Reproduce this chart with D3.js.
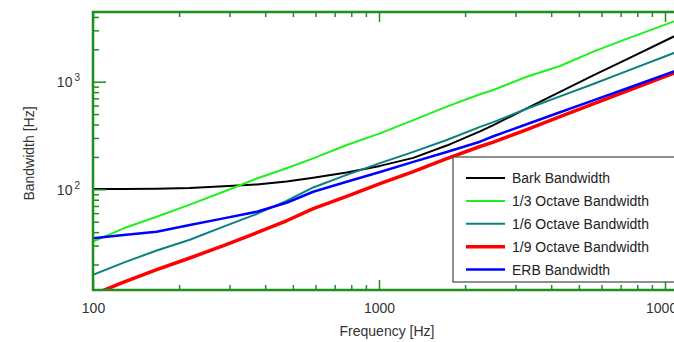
<!DOCTYPE html>
<html>
<head>
<meta charset="utf-8">
<script src="https://cdn.jsdelivr.net/npm/d3@7"></script>
<style>
  html, body { margin: 0; padding: 0; background: #fff; }
  svg { display: block; font-family: "Liberation Sans", Arial, sans-serif; }
</style>
</head>
<body>
<script>
// ---- data ----
const freqs      = [100, 128, 167, 218, 286, 374, 475, 589, 771, 1008, 1318, 1725, 2255, 2511, 3284, 4295, 5613, 7345, 10690, 11200];
const barkBW     = [100.5, 100.5, 101, 103, 107, 111, 118, 128, 143, 165, 196, 255, 345, 395, 565, 805, 1143, 1614, 2618, 2800];
const thirdOctBW = [32.7, 43.4, 55.6, 72, 95, 126, 157, 194, 258, 331, 440, 586, 765, 837, 1112, 1400, 1901, 2500, 3614, 3780];
const sixthOctBW = [16, 20.8, 27, 34, 45, 59, 78, 104, 136, 175, 223, 287, 380, 421, 560, 730, 953, 1253, 1837, 1920];
const ninthOctBW = [10.5, 13.7, 17.9, 23, 30, 39.5, 51, 66, 86, 113, 146, 193, 250, 274, 359, 473, 621, 816, 1197, 1250];
const erbBW      = [35, 37.6, 40.4, 46.6, 53.7, 61.9, 75, 94.9, 117.7, 145, 180, 222, 277, 311, 402, 520, 671, 865, 1239, 1300];

const seriesNames  = ["Bark Bandwidth", "1/3 Octave Bandwidth", "1/6 Octave Bandwidth", "1/9 Octave Bandwidth", "ERB Bandwidth"];
const seriesValues = [barkBW, thirdOctBW, sixthOctBW, ninthOctBW, erbBW];
const seriesColors = ["#000000", "#1ef01e", "#0a8080", "#ff0000", "#0000ff"];
const seriesWidths = [2, 2, 2, 3.5, 2.5];

const xMajorTicks = [100, 1000, 10000];
const xMinorTicks = [200, 300, 400, 500, 600, 700, 800, 900, 2000, 3000, 4000, 5000, 6000, 7000, 8000, 9000];
const yMajorTicks = [100, 1000];
const yMajorExp   = ["2", "3"];
const yMinorTicks = [20, 30, 40, 50, 60, 70, 80, 90, 200, 300, 400, 500, 600, 700, 800, 900, 2000, 3000, 4000];
const xTitle = "Frequency [Hz]";
const yTitle = "Bandwidth [Hz]";

// ---- layout ----
const W = 674, H = 342;
const L = 93, T = 12, B = 290, R = 700;
const axisColor = "#1f8f1f";
const textColor = "#333";

const x = d3.scaleLog().domain([100, 10000]).range([L, 665]);
const y = d3.scaleLog().domain([100, 1000]).range([189.3, 81.7]);

const svg = d3.select("body").append("svg").attr("width", W).attr("height", H);

svg.append("defs").append("clipPath").attr("id", "plotclip")
  .append("rect").attr("x", L).attr("y", T).attr("width", R - L).attr("height", B - T);

// series lines
const line = d3.line().x(d => x(d[0])).y(d => y(d[1]));
const gLines = svg.append("g").attr("clip-path", "url(#plotclip)");
seriesValues.forEach((vals, i) => {
  gLines.append("path")
    .datum(freqs.map((f, k) => [f, vals[k]]))
    .attr("d", line)
    .attr("fill", "none")
    .attr("stroke", seriesColors[i])
    .attr("stroke-width", seriesWidths[i])
    .attr("stroke-linejoin", "round");
});

// axes
function styleAxis(g) {
  g.select(".domain").remove();
  g.selectAll(".tick line").attr("stroke", axisColor).attr("stroke-width", 1.5);
  g.selectAll(".tick text").attr("fill", textColor).attr("font-size", 14)
    .attr("font-family", "'Liberation Sans', Arial, sans-serif");
}
// bottom
svg.append("g").attr("transform", `translate(0,${B})`)
  .call(d3.axisBottom(x).tickValues(xMinorTicks).tickSize(-5).tickFormat(""))
  .call(styleAxis);
svg.append("g").attr("transform", `translate(0,${B})`)
  .call(d3.axisBottom(x).tickValues(xMajorTicks).tickSize(-10).tickPadding(13).tickFormat(d3.format("d")))
  .call(styleAxis);
// top
svg.append("g").attr("transform", `translate(0,${T})`)
  .call(d3.axisTop(x).tickValues(xMinorTicks).tickSize(-5).tickFormat(""))
  .call(styleAxis);
svg.append("g").attr("transform", `translate(0,${T})`)
  .call(d3.axisTop(x).tickValues(xMajorTicks).tickSize(-10).tickFormat(""))
  .call(styleAxis);
// left
svg.append("g").attr("transform", `translate(${L},0)`)
  .call(d3.axisLeft(y).tickValues(yMinorTicks).tickSize(-6).tickFormat(""))
  .call(styleAxis);
const yMaj = svg.append("g").attr("transform", `translate(${L},0)`)
  .call(d3.axisLeft(y).tickValues(yMajorTicks).tickSize(-13).tickFormat(""))
  .call(styleAxis);
yMaj.selectAll(".tick").each(function(d, i) {
  const t = d3.select(this).select("text");
  t.attr("x", -13).attr("dy", null).attr("y", 5).attr("text-anchor", "end").text(null);
  t.append("tspan").text("10");
  t.append("tspan").attr("dx", 2).attr("dy", -6).attr("font-size", 10).text(yMajorExp[i]);
});

// frame
svg.append("rect").attr("x", L).attr("y", T).attr("width", R - L).attr("height", B - T)
  .attr("fill", "none").attr("stroke", axisColor).attr("stroke-width", 2.5);

// axis titles
svg.append("text").attr("x", 387).attr("y", 336).attr("text-anchor", "middle")
  .attr("font-size", 14).attr("fill", textColor).text(xTitle);
svg.append("text").attr("transform", "translate(34,153.5) rotate(-90)").attr("text-anchor", "middle")
  .attr("font-size", 14).attr("fill", textColor).text(yTitle);

// legend
const lg = svg.append("g");
lg.append("rect").attr("x", 453).attr("y", 157).attr("width", 260).attr("height", 125)
  .attr("fill", "#fff").attr("stroke", "#444").attr("stroke-width", 1.2);
seriesNames.forEach((name, i) => {
  const yy = 178 + i * 22.9;
  lg.append("line").attr("x1", 466).attr("x2", 505).attr("y1", yy).attr("y2", yy)
    .attr("stroke", seriesColors[i]).attr("stroke-width", seriesWidths[i]);
  lg.append("text").attr("x", 512).attr("y", yy + 5).attr("font-size", 14)
    .attr("fill", "#222").text(name);
});
</script>
</body>
</html>
